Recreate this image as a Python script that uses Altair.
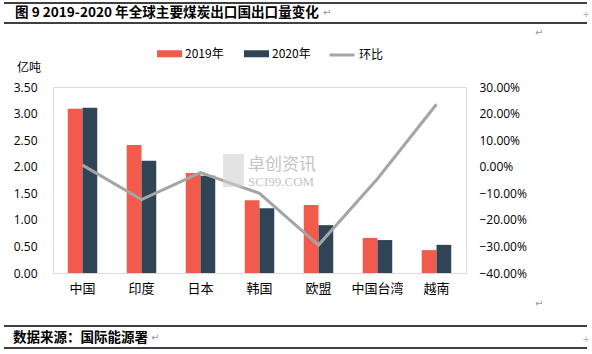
import altair as alt
import pandas as pd

categories = ["中国", "印度", "日本", "韩国", "欧盟", "中国台湾", "越南"]
vol_2019 = [3.09, 2.41, 1.88, 1.37, 1.28, 0.66, 0.43]
vol_2020 = [3.11, 2.11, 1.83, 1.22, 0.90, 0.62, 0.53]
mom = [0.006, -0.124, -0.022, -0.10, -0.295, -0.045, 0.235]
series = ["2019年", "2020年"]
left_ticks = [0, 0.5, 1.0, 1.5, 2.0, 2.5, 3.0, 3.5]
right_ticks = [-0.4, -0.3, -0.2, -0.1, 0.0, 0.1, 0.2, 0.3]

bars_df = pd.DataFrame(
    [{"cat": c, "series": series[0], "v": a} for c, a in zip(categories, vol_2019)]
    + [{"cat": c, "series": series[1], "v": b} for c, b in zip(categories, vol_2020)]
)
line_df = pd.DataFrame({"cat": categories, "mom": mom, "name": ["环比"] * len(categories)})

CJK = "Noto Sans CJK SC"
NUM = "Open Sans"

xscale = alt.Scale(domain=categories, paddingInner=0.5, paddingOuter=0.25)

bars = alt.Chart(bars_df).mark_bar().encode(
    x=alt.X("cat:N", scale=xscale, sort=categories, title=None,
            axis=alt.Axis(labelAngle=0, ticks=False, domainColor="#D9D9D9", domainWidth=1,
                          labelPadding=9, labelFont=CJK, labelFontSize=13, labelColor="#000000")),
    xOffset=alt.XOffset("series:N", scale=alt.Scale(domain=series, paddingInner=0, paddingOuter=0)),
    y=alt.Y("v:Q", scale=alt.Scale(domain=[0, 3.5], nice=False), title=None,
            axis=alt.Axis(values=left_ticks, format=".2f", ticks=False, domain=False, grid=False,
                          labelPadding=16, labelFont=NUM, labelFontSize=12, labelColor="#000000")),
    color=alt.Color("series:N", scale=alt.Scale(domain=series, range=["#F25A4C", "#2F4454"]),
                    legend=alt.Legend(title=None, orient="none", legendX=104, legendY=-46,
                                      direction="horizontal", symbolType="M-1,-0.28H1V0.28H-1Z",
                                      symbolSize=625, symbolStrokeWidth=0, symbolOpacity=1,
                                      labelFont=CJK, labelFontSize=12, labelOffset=3,
                                      columnPadding=20, labelColor="#000000")),
)

line = alt.Chart(line_df).mark_line(strokeWidth=3).encode(
    x=alt.X("cat:N", scale=xscale, sort=categories, title=None),
    y=alt.Y("mom:Q", scale=alt.Scale(domain=[-0.4, 0.3], nice=False), title=None,
            axis=alt.Axis(orient="right", values=right_ticks, format=".2%", ticks=False, domain=False,
                          grid=False, labelPadding=13, labelFont=NUM, labelFontSize=12,
                          labelColor="#000000")),
    stroke=alt.Stroke("name:N", scale=alt.Scale(domain=["环比"], range=["#A5A5A5"]),
                      legend=alt.Legend(title=None, orient="none", legendX=275, legendY=-46,
                                        symbolType="stroke", symbolSize=625, symbolStrokeWidth=3,
                                        labelFont=CJK, labelFontSize=12, labelOffset=3,
                                        labelColor="#000000")),
)

one = alt.Data(values=[{"a": 1}])


def txt(text, x, y, size=12, font=CJK, color="#000000", weight="normal", align="left", baseline="middle"):
    return alt.Chart(one).mark_text(text=text, font=font, fontSize=size, color=color, fontWeight=weight,
                                    align=align, baseline=baseline).encode(
        x=alt.value(x), y=alt.value(y))


def hline(y, x0, x1, color="#000000", w=1.5):
    return alt.Chart(one).mark_rule(color=color, strokeWidth=w).encode(
        x=alt.value(x0), x2=alt.value(x1), y=alt.value(y))


# page decorations (relative to plot origin at 53, 87)
deco = [
    hline(-84, -49, 534),
    hline(-64, -49, 534),
    txt("图 9 2019-2020 年全球主要煤炭出口国出口量变化", -38, -74, size=13.6, weight="bold"),
    txt("↵", 270, -74, size=10, font="DejaVu Sans", color="#999999"),
    txt("+", 533, -73, size=9, font="DejaVu Sans", color="#aaaaaa", align="center"),
    txt("↵", 482, -54, size=10, font="DejaVu Sans", color="#999999"),
    txt("亿吨", -36, -19, size=12),
    txt("↵", 482, 217, size=10, font="DejaVu Sans", color="#999999"),
    hline(239, -49, 534),
    hline(261, -49, 534),
    txt("数据来源：国际能源署", -40, 251, size=13.5, weight="bold"),
    txt("↵", 98, 251, size=10, font="DejaVu Sans", color="#999999"),
    txt("+", 533, 252, size=9, font="DejaVu Sans", color="#aaaaaa", align="center"),
    # watermark
    alt.Chart(one).mark_rect(color="#D0D0D0", opacity=0.6).encode(
        x=alt.value(170), x2=alt.value(191), y=alt.value(67), y2=alt.value(100)),
    txt("卓创资讯", 195, 78, size=17, color="#C4C4C4"),
    txt("SCI99.COM", 195, 95, size=13, font="Liberation Serif", color="#C4C4C4"),
]

chart = alt.layer(bars, line, *deco).resolve_scale(y="independent").properties(
    width=413, height=186,
    autosize=alt.AutoSizeParams(type="none"),
    padding={"left": 53, "top": 87, "right": 126, "bottom": 81},
).configure_view(stroke=None).configure(background="#FFFFFF")

chart.save("out.html", embed_options={"renderer": "svg", "actions": False})
